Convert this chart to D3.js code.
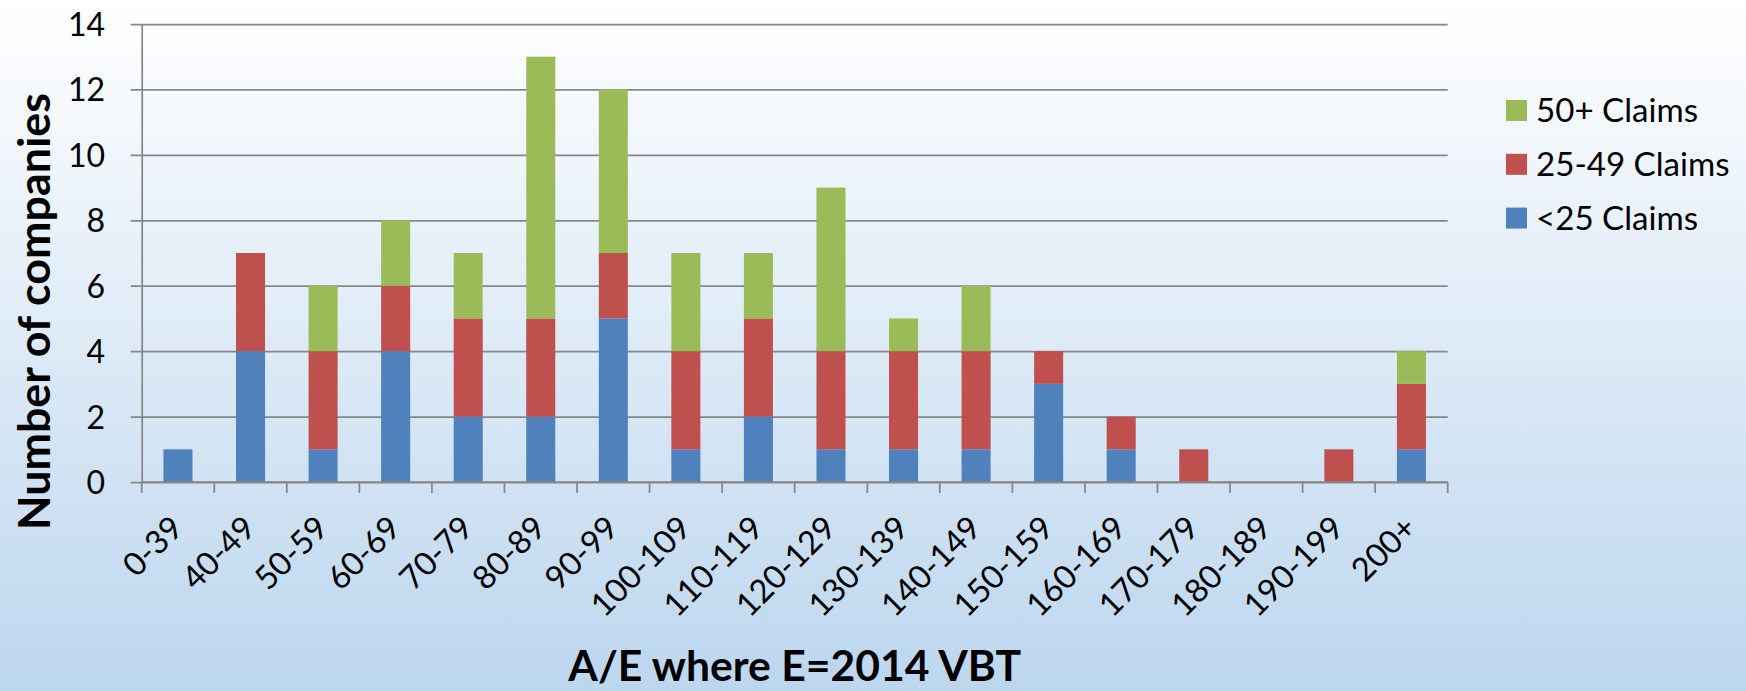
<!DOCTYPE html>
<html>
<head>
<meta charset="utf-8">
<script src="https://cdn.jsdelivr.net/npm/d3@7"></script>
<style>
  body { margin: 0; overflow: hidden; }
  svg { display: block; }
</style>
</head>
<body>
<svg id="chart" width="1746" height="691"></svg>
<script>
// ---- data ----
var categories = ['0-39', '40-49', '50-59', '60-69', '70-79', '80-89', '90-99',
    '100-109', '110-119', '120-129', '130-139', '140-149', '150-159',
    '160-169', '170-179', '180-189', '190-199', '200+'];
var under25 = [1, 4, 1, 4, 2, 2, 5, 1, 2, 1, 1, 1, 3, 1, 0, 0, 0, 1];
var claims25to49 = [0, 3, 3, 2, 3, 3, 2, 3, 3, 3, 3, 3, 1, 1, 1, 0, 1, 2];
var claims50plus = [0, 0, 2, 2, 2, 8, 5, 3, 2, 5, 1, 2, 0, 0, 0, 0, 0, 1];
var seriesKeys = ['lt25', 'c25to49', 'c50plus'];
var seriesNames = ['<25 Claims', '25-49 Claims', '50+ Claims'];
var seriesColors = ['#4F81BD', '#C0504D', '#9BBB59'];
var yTicks = [0, 2, 4, 6, 8, 10, 12, 14];

var rows = categories.map(function(c, i) {
    return {cat: c, lt25: under25[i], c25to49: claims25to49[i], c50plus: claims50plus[i]};
});

var svg = d3.select('#chart');
var svgWidth = +svg.attr('width');
var svgHeight = +svg.attr('height');
var font = 'Lato, Carlito, Calibri, sans-serif';
var gridColor = '#878787';

// plot area
var plot = {l: 141.7, r: 1447.7, t: 24, b: 482};

// background gradient
var defs = svg.append('defs');
var grad = defs.append('linearGradient')
    .attr('id', 'bg').attr('x1', 0).attr('y1', 0).attr('x2', 0).attr('y2', 1);
grad.append('stop').attr('offset', '0%').attr('stop-color', '#FFFFFF');
grad.append('stop').attr('offset', '100%').attr('stop-color', '#BCD6EE');
svg.append('rect')
    .attr('width', svgWidth).attr('height', svgHeight)
    .attr('fill', 'url(#bg)');

var x = d3.scaleBand()
    .domain(categories)
    .range([plot.l, plot.r])
    .paddingInner(0.6)
    .paddingOuter(0.3);
var y = d3.scaleLinear()
    .domain([0, 14])
    .range([plot.b, plot.t]);

// horizontal gridlines + left tick marks
var gridG = svg.append('g')
    .attr('transform', 'translate(' + [plot.l, 0] + ')')
    .call(d3.axisLeft(y).tickValues(yTicks).tickSizeInner(11)
        .tickSizeOuter(0).tickFormat(''));
gridG.select('.domain').remove();
gridG.selectAll('.tick line')
    .attr('x1', plot.r - plot.l)
    .attr('stroke', gridColor)
    .attr('stroke-width', 1.75);

// stacked bars
var stacked = d3.stack().keys(seriesKeys)(rows);
svg.append('g').selectAll('g')
    .data(stacked)
    .enter().append('g')
    .attr('fill', function(d, i) { return seriesColors[i]; })
    .selectAll('rect')
    .data(function(d) { return d; })
    .enter().append('rect')
    .attr('x', function(d) { return x(d.data.cat); })
    .attr('y', function(d) { return y(d[1]); })
    .attr('width', x.bandwidth())
    .attr('height', function(d) { return y(d[0]) - y(d[1]); });

// y axis line and tick labels
var yAx = svg.append('g')
    .attr('transform', 'translate(' + [plot.l, 0] + ')')
    .call(d3.axisLeft(y).tickValues(yTicks).tickSize(0).tickPadding(36.7));
yAx.select('.domain')
    .attr('stroke', gridColor).attr('stroke-width', 1.75);
yAx.selectAll('text')
    .attr('font-family', font)
    .attr('font-size', 32)
    .attr('fill', '#000')
    .attr('dy', '0.36em');

// x axis line with boundary ticks
var gap = (x.step() - x.bandwidth()) / 2;
var bounds = categories.map(function(c) { return x(c) - gap; }).concat([plot.r]);
var xAx = svg.append('g');
xAx.append('line')
    .attr('x1', plot.l).attr('x2', plot.r)
    .attr('y1', plot.b).attr('y2', plot.b)
    .attr('stroke', gridColor).attr('stroke-width', 1.75);
xAx.selectAll('line.tk')
    .data(bounds)
    .enter().append('line')
    .attr('class', 'tk')
    .attr('x1', function(d) { return d; }).attr('x2', function(d) { return d; })
    .attr('y1', plot.b).attr('y2', plot.b + 11)
    .attr('stroke', gridColor).attr('stroke-width', 1.75);

// rotated category labels
xAx.selectAll('text')
    .data(categories)
    .enter().append('text')
    .attr('transform', function(d) {
        return 'translate(' + [x(d) + x.bandwidth() / 2 + 7, plot.b + 48] + ') rotate(-45)';
    })
    .attr('text-anchor', 'end')
    .attr('font-family', font)
    .attr('font-size', 32.5)
    .text(function(d) { return d; });

// fit a text element to a target width
function fitWidth(sel, target) {
    var w = sel.node().getComputedTextLength();
    var fs = parseFloat(sel.attr('font-size'));
    sel.attr('font-size', fs * target / w);
}

// axis titles
var xTitle = svg.append('text')
    .attr('x', (plot.l + plot.r) / 2)
    .attr('y', 681)
    .attr('text-anchor', 'middle')
    .attr('font-family', font)
    .attr('font-weight', 'bold')
    .attr('font-size', 42)
    .text('A/E where E=2014 VBT');
fitWidth(xTitle, 453);

var yTitle = svg.append('text')
    .attr('transform', 'translate(' + [50, 311.5] + ') rotate(-90)')
    .attr('text-anchor', 'middle')
    .attr('font-family', font)
    .attr('font-weight', 'bold')
    .attr('font-size', 42)
    .text('Number of companies');
fitWidth(yTitle, 437);

// legend (top to bottom: 50+, 25-49, <25)
var legendOrder = [2, 1, 0];
var legendG = svg.append('g').attr('transform', 'translate(' + [1506, 100] + ')');
var items = legendG.selectAll('g')
    .data(legendOrder)
    .enter().append('g')
    .attr('transform', function(d, i) { return 'translate(' + [0, i * 53.8] + ')'; });
items.append('rect')
    .attr('width', 21).attr('height', 21)
    .attr('fill', function(d) { return seriesColors[d]; });
items.append('text')
    .attr('x', 30)
    .attr('y', 10.5)
    .attr('dy', '0.36em')
    .attr('font-family', font)
    .attr('font-size', 32)
    .text(function(d) { return seriesNames[d]; });
var legendFirst = items.filter(function(d) { return d === 2; }).select('text');
var legendSize = parseFloat(legendFirst.attr('font-size')) * 162 / legendFirst.node().getComputedTextLength();
items.selectAll('text').attr('font-size', legendSize);
</script>
</body>
</html>
